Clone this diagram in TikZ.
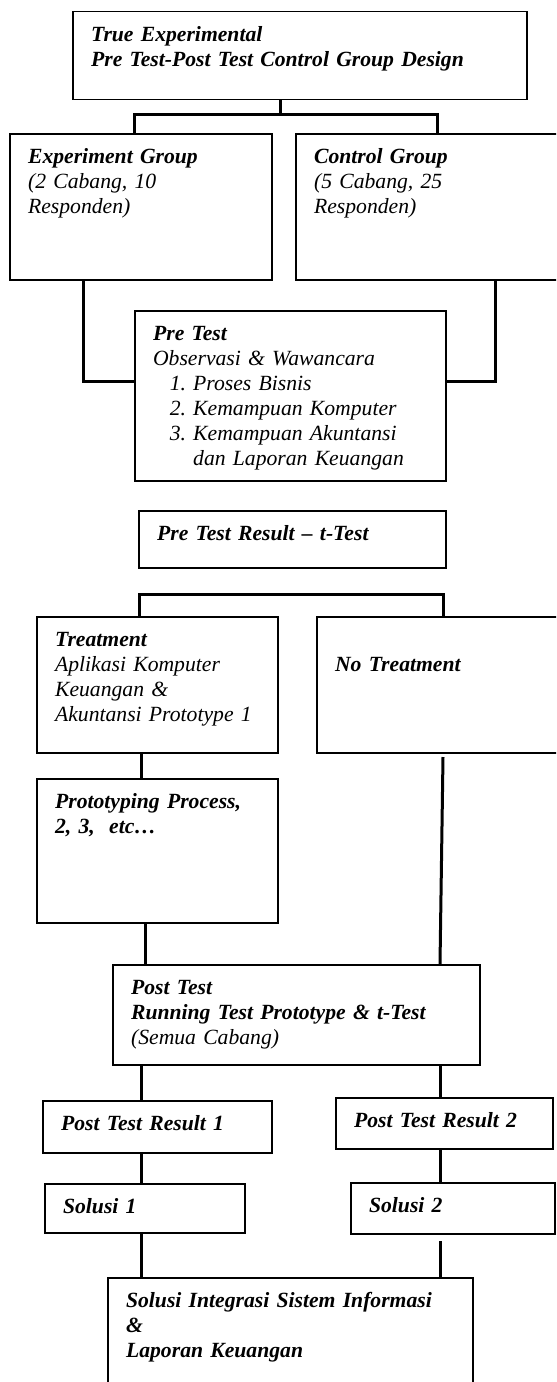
\documentclass[tikz,border=0pt]{standalone}
\usepackage{fontspec}
\setmainfont{Liberation Serif}
\tikzset{
  kotak/.style 2 args={draw,line width=0.9pt,anchor=north west,align=left,
    inner xsep=11pt,inner ysep=0pt,text width=#1,text height=18pt,
    text depth=#2,font=\fontsize{13}{15}\selectfont\itshape},
  garis/.style={line width=1.8pt}
}

\begin{document}
\begin{tikzpicture}[x=0.6pt,y=-0.6pt]
\clip (0,0) rectangle (556,1382);
% ---------------- kotak ----------------
\node[kotak={250.4pt}{34.8pt}] (judul) at (72,11)
  {\textbf{True Experimental}\\\textbf{Pre Test-Post Test Control Group Design}};
\node[kotak={135.2pt}{69.6pt}] (exp) at (9,133)
  {\textbf{Experiment Group}\\(2 Cabang, 10\\Responden)};
\node[kotak={137pt}{69.6pt}] (ctrl) at (295,133)
  {\textbf{Control Group}\\(5 Cabang, 25\\Responden)};
\node[kotak={164.6pt}{84pt}] (pre) at (134,310)
  {\textbf{Pre Test}\\Observasi \& Wawancara\\
   \hspace*{10pt}1.\ Proses Bisnis\\
   \hspace*{10pt}2.\ Kemampuan Komputer\\
   \hspace*{10pt}3.\ Kemampuan Akuntansi\\
   \hspace*{10pt}\phantom{3.\ }dan Laporan Keuangan};
\node[kotak={162.2pt}{16.2pt}] (preres) at (138,510)
  {\textbf{Pre Test Result -- t-Test}};
\node[kotak={122.6pt}{63.6pt}] (treat) at (36,616)
  {\textbf{Treatment}\\Aplikasi Komputer\\Keuangan \&\\Akuntansi Prototype 1};
\node[kotak={124.4pt}{48.6pt},text height=33pt] (notreat) at (316,616)
  {\textbf{No Treatment}};
\node[kotak={122.6pt}{68.4pt}] (proto) at (36,778)
  {\textbf{Prototyping Process,}\\\textbf{2, 3,\ \ etc…}};
\node[kotak={198.2pt}{42pt}] (post) at (112,964)
  {\textbf{Post Test}\\\textbf{Running Test Prototype \& t-Test}\\(Semua Cabang)};
\node[kotak={115.4pt}{13.2pt}] (res1) at (42,1100) {\textbf{Post Test Result 1}};
\node[kotak={108.2pt}{12.6pt}] (res2) at (335,1097) {\textbf{Post Test Result 2}};
\node[kotak={98pt}{11.4pt}] (sol1) at (44,1183) {\textbf{Solusi 1}};
\node[kotak={100.4pt}{12.6pt}] (sol2) at (350,1182) {\textbf{Solusi 2}};
\node[kotak={197pt}{55.8pt}] (final) at (107,1277)
  {\textbf{Solusi Integrasi Sistem Informasi}\\\textbf{\&}\\\textbf{Laporan Keuangan}};
% ---------------- garis ----------------
\coordinate (b1) at (280,115);
\coordinate (b1k) at (134,115);
\coordinate (b1n) at (437,115);
\draw[garis] (judul.south -| b1) -- (b1);
\draw[garis] (exp.north -| b1k) -- (b1k) -- (b1n) -- (ctrl.north -| b1n);
\coordinate (sk) at (83,381);
\coordinate (sn) at (495,381);
\draw[garis] (exp.south -| sk) -- (sk) -- (sk -| pre.west);
\draw[garis] (ctrl.south -| sn) -- (sn) -- (sn -| pre.east);
\coordinate (b2k) at (139,594);
\coordinate (b2n) at (443,594);
\draw[garis] (treat.north -| b2k) -- (b2k) -- (b2n) -- (notreat.north -| b2n);
\coordinate (kol1) at (141,0);
\coordinate (kol2) at (145,0);
\coordinate (kol3) at (440,0);
\coordinate (nt) at (443,757);
\draw[garis] (treat.south -| kol1) -- (proto.north -| kol1);
\draw[garis] (proto.south -| kol2) -- (post.north -| kol2);
\draw[garis] (nt) -- (post.north -| kol3);
\draw[garis] (post.south -| kol1) -- (res1.north -| kol1);
\draw[garis] (post.south -| kol3) -- (res2.north -| kol3);
\draw[garis] (res1.south -| kol1) -- (sol1.north -| kol1);
\draw[garis] (res2.south -| kol3) -- (sol2.north -| kol3);
\draw[garis] (sol1.south -| kol1) -- (final.north -| kol1);
\draw[garis,shorten <=4pt] (sol2.south -| kol3) -- (final.north -| kol3);
\end{tikzpicture}
\end{document}
